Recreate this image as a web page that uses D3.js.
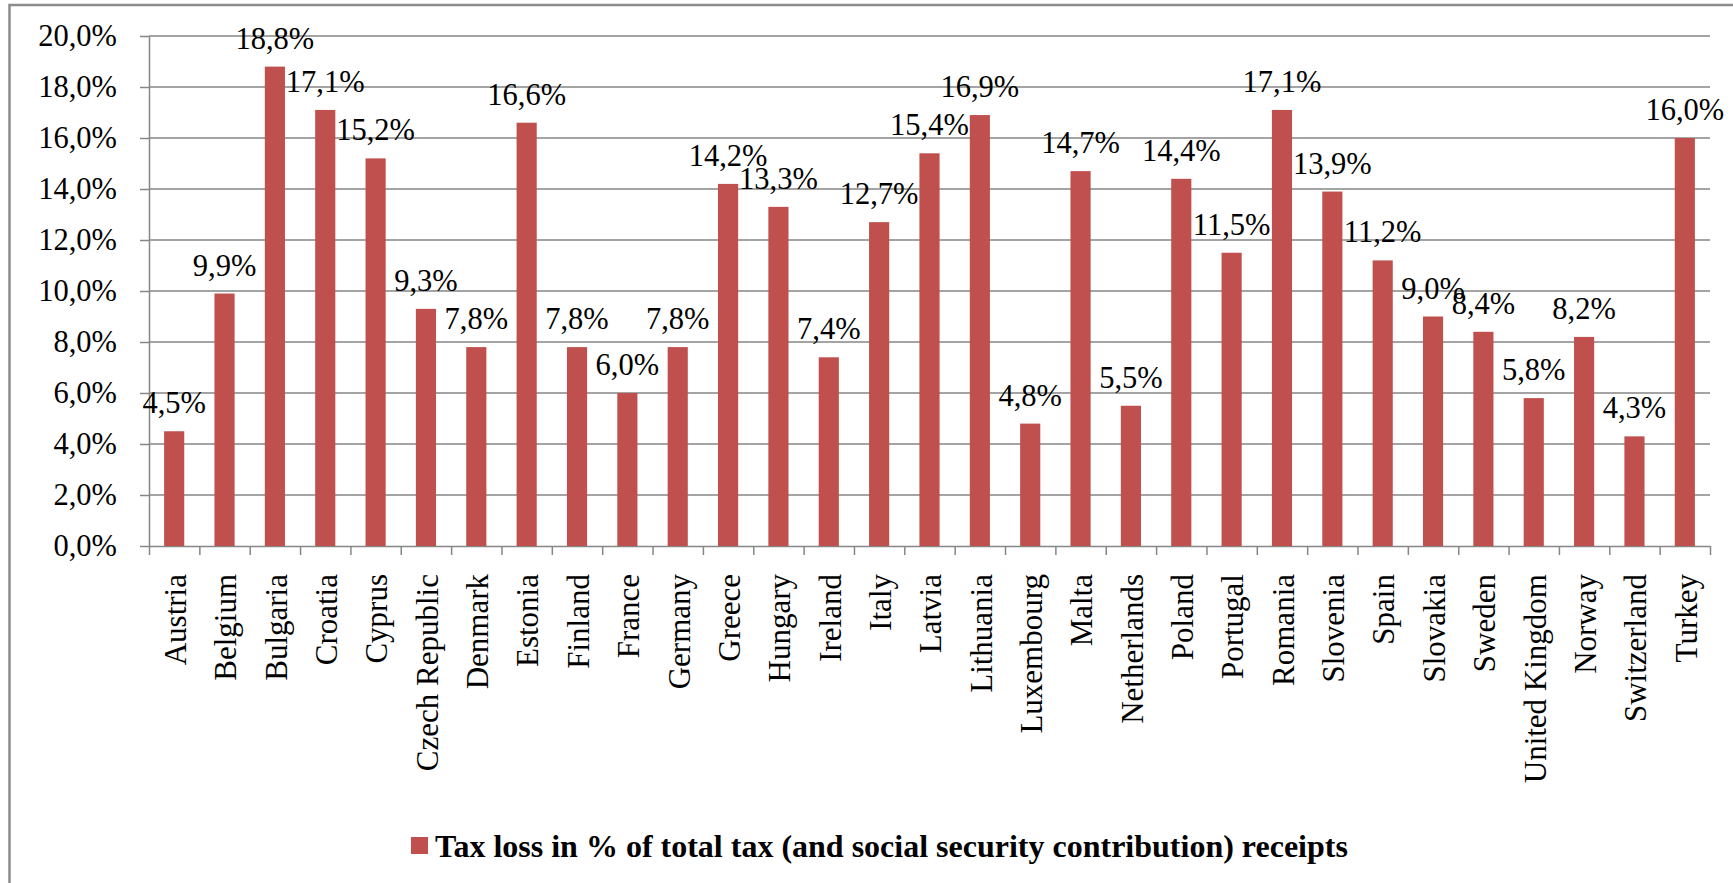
<!DOCTYPE html>
<html>
<head>
<meta charset="utf-8">
<script src="https://cdnjs.cloudflare.com/ajax/libs/d3/7.8.5/d3.min.js"></script>
<style>
  body { margin: 0; background: #fff; }
  svg { display: block; }
  .axis text { font-family: "Liberation Serif", "Times New Roman", serif; fill: #000; }
  .axis path, .axis line { stroke: #868686; stroke-width: 1.5; }
</style>
</head>
<body>
<div class="chart"></div>
<script>
var svgWidth = 1733;
var svgHeight = 883;

// data
var countries = ["Austria", "Belgium", "Bulgaria", "Croatia", "Cyprus", "Czech Republic", "Denmark",
    "Estonia", "Finland", "France", "Germany", "Greece", "Hungary", "Ireland", "Italy", "Latvia",
    "Lithuania", "Luxembourg", "Malta", "Netherlands", "Poland", "Portugal", "Romania", "Slovenia",
    "Spain", "Slovakia", "Sweden", "United Kingdom", "Norway", "Switzerland", "Turkey"];
var taxLoss = [4.5, 9.9, 18.8, 17.1, 15.2, 9.3, 7.8, 16.6, 7.8, 6.0, 7.8, 14.2, 13.3, 7.4, 12.7, 15.4,
    16.9, 4.8, 14.7, 5.5, 14.4, 11.5, 17.1, 13.9, 11.2, 9.0, 8.4, 5.8, 8.2, 4.3, 16.0];
var yTicks = [0, 2, 4, 6, 8, 10, 12, 14, 16, 18, 20];
var seriesName = "Tax loss in % of total tax (and social security contribution) receipts";

var plot = { left: 149, right: 1710, top: 36, bottom: 546 };
var fmt = function(v) { return v.toFixed(1).replace(".", ",") + "%"; };

var svg = d3.select(".chart")
    .append("svg")
    .attr("width", svgWidth)
    .attr("height", svgHeight);

// outer chart border (only left and top visible in the crop)
svg.append("rect")
    .attr("x", 9.5)
    .attr("y", 5)
    .attr("width", 1800)
    .attr("height", 1000)
    .attr("fill", "none")
    .attr("stroke", "#8c8c8c")
    .attr("stroke-width", 2.5);

var xScale = d3.scaleBand()
    .domain(countries)
    .range([plot.left, plot.right])
    .paddingInner(0.6)
    .paddingOuter(0.3);

var xEdges = d3.scaleLinear()
    .domain([0, countries.length])
    .range([plot.left, plot.right]);

var yScale = d3.scaleLinear()
    .domain([0, 20])
    .range([plot.bottom, plot.top]);

// gridlines
svg.append("g")
    .selectAll("line")
    .data(yTicks.slice(1))
    .enter()
    .append("line")
    .attr("x1", plot.left)
    .attr("x2", plot.right)
    .attr("y1", d => yScale(d))
    .attr("y2", d => yScale(d))
    .attr("stroke", "#868686")
    .attr("stroke-width", 1.5);

// y axis
var leftAxis = d3.axisLeft(yScale)
    .tickValues(yTicks)
    .tickSize(9)
    .tickSizeOuter(0)
    .tickPadding(23)
    .tickFormat(fmt);

svg.append("g")
    .attr("class", "axis")
    .attr("transform", `translate(${plot.left},0)`)
    .style("font-size", "30.5px")
    .call(leftAxis);

// x axis tick marks at category boundaries
var edgeAxis = d3.axisBottom(xEdges)
    .tickValues(d3.range(countries.length + 1))
    .tickSize(9)
    .tickSizeOuter(0)
    .tickFormat("");

svg.append("g")
    .attr("class", "axis")
    .attr("transform", `translate(0,${plot.bottom})`)
    .call(edgeAxis);

// category labels
var bottomAxis = d3.axisBottom(xScale).tickSize(0);
var xg = svg.append("g")
    .attr("class", "axis")
    .attr("transform", `translate(0,${plot.bottom})`)
    .style("font-size", "31px")
    .call(bottomAxis);
xg.select(".domain").remove();
xg.selectAll("text")
    .attr("transform", "rotate(-90)")
    .attr("text-anchor", "end")
    .attr("x", -28)
    .attr("y", 0)
    .attr("dy", "0.38em");

// bars
svg.append("g")
    .selectAll("rect")
    .data(taxLoss)
    .enter()
    .append("rect")
    .attr("x", (d, i) => xScale(countries[i]))
    .attr("y", d => yScale(d))
    .attr("width", xScale.bandwidth())
    .attr("height", d => yScale(0) - yScale(d))
    .attr("fill", "#C0504D");

// value labels
svg.append("g")
    .selectAll("text")
    .data(taxLoss)
    .enter()
    .append("text")
    .attr("x", (d, i) => xScale(countries[i]) + xScale.bandwidth() / 2)
    .attr("y", d => yScale(d) - 18)
    .attr("text-anchor", "middle")
    .style("font-family", "'Liberation Serif', 'Times New Roman', serif")
    .style("font-size", "30.5px")
    .text(d => fmt(d));

// legend
var legend = svg.append("g");
legend.append("rect")
    .attr("x", 411)
    .attr("y", 837)
    .attr("width", 17)
    .attr("height", 17)
    .attr("fill", "#C0504D");
legend.append("text")
    .attr("x", 435)
    .attr("y", 857)
    .style("font-family", "'Liberation Serif', 'Times New Roman', serif")
    .style("font-weight", "bold")
    .style("font-size", "32px")
    .text(seriesName);
</script>
</body>
</html>
